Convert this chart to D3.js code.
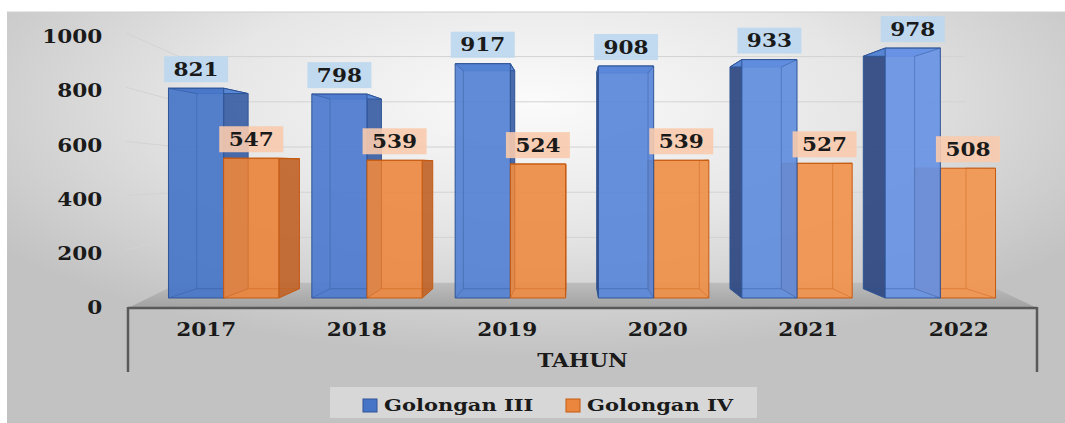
<!DOCTYPE html>
<html lang="en">
<head>
<meta charset="utf-8">
<title>Golongan III dan IV per tahun</title>
<script src="https://cdn.jsdelivr.net/npm/d3@7"></script>
<style>
  body { margin: 0; background: #fff; }
  text { font-family: "DejaVu Serif", serif; font-weight: bold; fill: #1a1a1a; }
</style>
</head>
<body>
<div id="chart"></div>
<script>
var years = ["2017", "2018", "2019", "2020", "2021", "2022"];
var series = ["Golongan III", "Golongan IV"];
var golIII = [821, 798, 917, 908, 933, 978];
var golIV = [547, 539, 524, 539, 527, 508];
var yTicks = [0, 200, 400, 600, 800, 1000];
var axisTitle = "TAHUN";

var w = 1065, h = 423;
var vp = [573, 165];          // vanishing point of the 3d view
var barDepth = 0.07, wallDepth = 0.115;
var stretch = 1.2;            // the picture is a bit wide, so is its text

var look = {
  "Golongan III": { left: "#4675c8", right: "#6893e4", side: "#3a5ea4", sideL: "#2d4780", top: "#5b8ad9", edge: "#2f5597", label: "#bdd7ee" },
  "Golongan IV": { left: "#ea863e", right: "#f3964f", side: "#c0642a", sideL: "#c0642a", top: "#e47c36", edge: "#c55a11", label: "#f8cbad" }
};

function proj(x, y, d) { return [x + d * (vp[0] - x), y + d * (vp[1] - y)]; }

var svg = d3.select("#chart").append("svg")
  .attr("width", w).attr("height", h);

var defs = svg.append("defs");
var bg = defs.append("radialGradient").attr("id", "bg")
  .attr("cx", "0.5").attr("cy", "0.22").attr("r", "0.62");
bg.append("stop").attr("offset", "0").attr("stop-color", "#fbfbfb");
bg.append("stop").attr("offset", "0.5").attr("stop-color", "#e6e6e6");
bg.append("stop").attr("offset", "1").attr("stop-color", "#c2c2c2");
var fl = defs.append("linearGradient").attr("id", "floor")
  .attr("x1", 0).attr("y1", 0).attr("x2", 0).attr("y2", 1);
fl.append("stop").attr("offset", "0").attr("stop-color", "#bdbdbd");
fl.append("stop").attr("offset", "1").attr("stop-color", "#a2a2a2");

// chart area
svg.append("rect").attr("x", 7).attr("y", 12).attr("width", w - 7).attr("height", h - 12)
  .attr("fill", "url(#bg)");
svg.append("line").attr("x1", 7).attr("x2", w).attr("y1", 12).attr("y2", 12)
  .attr("stroke", "#cfcfcf");

var x = d3.scaleBand().domain(years).range([152, 1012]).paddingInner(0.23).paddingOuter(0.115);
var xs = d3.scaleBand().domain(series).range([0, x.bandwidth()]);
var y = d3.scaleLinear().domain([0, 1000]).range([298, 42.5]);
var yLab = d3.scaleLinear().domain([0, 1000]).range([308, 37]);

var frontL = 128, frontR = 1037;
var backL = proj(frontL, y(0), wallDepth)[0], backR = proj(frontR, y(0), wallDepth)[0];
function yBack(v) { return proj(0, y(v), wallDepth)[1]; }

// floor
svg.append("polygon")
  .attr("points", [[frontL, 308], [frontR, 308], [backR, yBack(0)], [backL, yBack(0)]].join(" "))
  .attr("fill", "url(#floor)");

// gridlines, side wall and back wall
var grid = svg.append("g").attr("stroke", "#d3d3d3").attr("fill", "none");
grid.selectAll(".side").data(yTicks.filter(function(d) { return d > 0; })).enter()
  .append("polyline").attr("class", "side")
  .attr("points", function(d) {
    return [[frontL - 2, yLab(d) - 4], [backL, yBack(d)], [backR - 18, yBack(d)]].join(" ");
  });

// y axis labels
var yAxis = svg.append("g").attr("transform", "translate(112,0)")
  .call(d3.axisLeft(yLab).tickValues(yTicks).tickFormat(d3.format("d")).tickSize(0).tickPadding(8));
yAxis.select(".domain").remove();
yAxis.selectAll("text")
  .attr("font-family", "DejaVu Serif").attr("font-weight", "bold")
  .attr("font-size", 18).attr("fill", "#1a1a1a")
  .attr("transform", "scale(" + stretch + ",1)");

// bars
var bars = [];
years.forEach(function(yr, i) {
  [golIII[i], golIV[i]].forEach(function(v, j) {
    var s = series[j];
    var x0 = x(yr) + xs(s), x1 = x0 + xs.bandwidth();
    bars.push({ year: yr, s: s, v: v, i: i, x0: x0, x1: x1, yT: y(v), yB: y(0) });
  });
});
bars.sort(function(a, b) {
  return Math.abs((b.x0 + b.x1) / 2 - vp[0]) - Math.abs((a.x0 + a.x1) / 2 - vp[0]);
});

var gBars = svg.append("g");
bars.forEach(function(b) {
  var c = look[b.s];
  var front = d3.interpolateRgb(c.left, c.right)(b.i / (years.length - 1));
  var g = gBars.append("g").attr("stroke", c.edge).attr("stroke-width", 1)
    .attr("stroke-linejoin", "round").attr("fill-opacity", 0.92);
  var rightSide = b.x1 < vp[0];
  var sx = rightSide ? b.x1 : b.x0;
  var hx = rightSide ? b.x0 : b.x1;
  // side face
  if (Math.abs(sx - vp[0]) > 2) {
    g.append("polygon")
      .attr("points", [[sx, b.yT], proj(sx, b.yT, barDepth), proj(sx, b.yB, barDepth), [sx, b.yB]].join(" "))
      .attr("fill", rightSide ? c.side : c.sideL);
  }
  // top face
  if (b.yT < vp[1]) {
    g.append("polygon")
      .attr("points", [[b.x0, b.yT], [b.x1, b.yT], proj(b.x1, b.yT, barDepth), proj(b.x0, b.yT, barDepth)].join(" "))
      .attr("fill", c.top);
  }
  g.append("rect")
    .attr("x", b.x0).attr("y", b.yT).attr("width", b.x1 - b.x0).attr("height", b.yB - b.yT)
    .attr("fill", front);
  // edges seen through the glassy bar
  var hb = proj(hx, b.yB, barDepth), ht = proj(hx, b.yT, barDepth), sb = proj(sx, b.yB, barDepth);
  g.append("polyline")
    .attr("points", [[hx, b.yT], ht, hb, sb].join(" "))
    .attr("fill", "none").attr("stroke-opacity", 0.4);
  g.append("line").attr("x1", hb[0]).attr("y1", hb[1]).attr("x2", hx).attr("y2", b.yB)
    .attr("stroke-opacity", 0.4);
});

// data labels
var lab = svg.append("g");
bars.forEach(function(b) {
  var cx = (b.x0 + b.x1) / 2, by = b.yT - 6;
  lab.append("rect").attr("x", cx - 32).attr("y", by - 26).attr("width", 64).attr("height", 26)
    .attr("fill", look[b.s].label).attr("fill-opacity", 0.9);
  lab.append("text").attr("text-anchor", "middle").attr("font-size", 18)
    .attr("transform", "translate(" + cx + "," + (by - 6.5) + ") scale(" + stretch + ",1)")
    .text(b.v);
});

// category axis
var ax = svg.append("g").attr("stroke", "#595959").attr("fill", "none").attr("stroke-width", 2.5);
ax.append("line").attr("x1", frontL).attr("x2", frontR).attr("y1", 308).attr("y2", 308);
ax.append("line").attr("x1", frontL).attr("x2", frontL).attr("y1", 307).attr("y2", 372);
ax.append("line").attr("x1", frontR).attr("x2", frontR).attr("y1", 307).attr("y2", 372);

svg.append("g").selectAll("text").data(years).enter().append("text")
  .attr("text-anchor", "middle").attr("font-size", 18)
  .attr("transform", function(d) {
    var p = proj(x(d) + x.bandwidth() / 2, 336, -0.05);
    return "translate(" + p[0] + ",336) scale(" + stretch + ",1)";
  })
  .text(function(d) { return d; });

svg.append("text").attr("text-anchor", "middle").attr("font-size", 18)
  .attr("transform", "translate(" + (frontL + frontR) / 2 + ",367) scale(" + stretch + ",1)")
  .text(axisTitle);

// legend
var leg = svg.append("g");
leg.append("rect").attr("x", 330).attr("y", 387).attr("width", 427).attr("height", 31)
  .attr("fill", "#ffffff").attr("fill-opacity", 0.35);
var legX = [363, 566];
series.forEach(function(s, k) {
  leg.append("rect").attr("x", legX[k]).attr("y", 399).attr("width", 14).attr("height", 13)
    .attr("fill", look[s].left).attr("stroke", look[s].edge);
  leg.append("text").attr("font-size", 17.5)
    .attr("transform", "translate(" + (legX[k] + 21) + ",411) scale(" + stretch + ",1)")
    .text(s);
});
</script>
</body>
</html>
